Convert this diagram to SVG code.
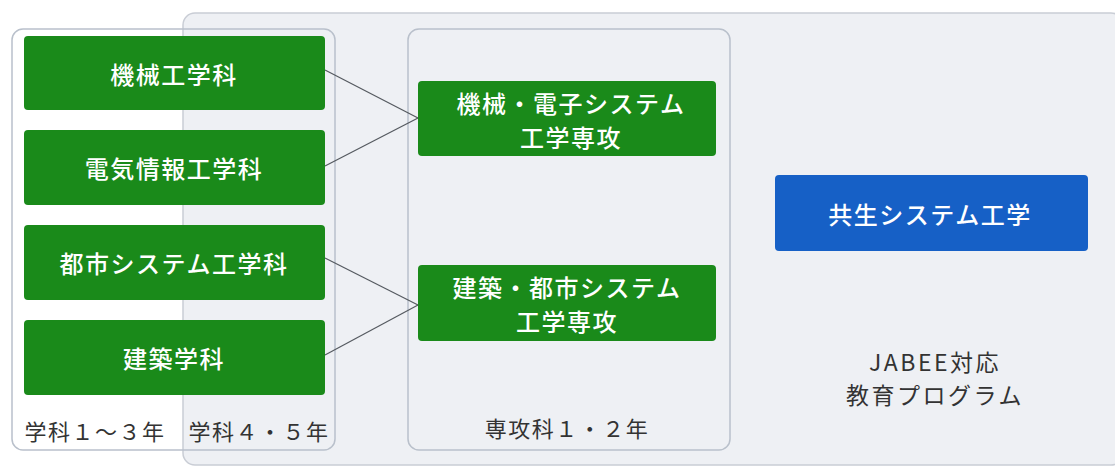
<svg xmlns="http://www.w3.org/2000/svg" width="1115" height="468" viewBox="0 0 1115 468">
<style>
.t{font-family:"Noto Sans CJK JP","Noto Sans",sans-serif;font-size:24px;font-weight:500;letter-spacing:1.5px;text-anchor:middle;dominant-baseline:central}
.s{font-size:22px;letter-spacing:1.5px;font-weight:400}
.j{font-size:23px;letter-spacing:2.5px;font-weight:400}
.w{fill:#ffffff}
.d{fill:#333333}
.g{fill:#1a8a1a}
.b{fill:#1660c6}
.panel{fill:none;stroke:#b9c0cb;stroke-width:1.5}
.conn{stroke:#555a60;stroke-width:1.2;fill:none}
</style>
<rect width="1115" height="468" fill="#ffffff"/>
<g id="program-area">
<rect x="183" y="13" width="940" height="452" rx="12" fill="#eef0f4" stroke="#c9cdd5" stroke-width="1.5"/>
</g>
<g id="gakka-panel">
<rect class="panel" x="12" y="29" width="323" height="421" rx="11"/>
<text class="t s d" x="95" y="430">学科１～３年</text>
<text class="t s d" x="259" y="430">学科４・５年</text>
</g>
<g id="senkou-panel">
<rect class="panel" x="408" y="29" width="322" height="421" rx="11"/>
<text class="t s d" x="567" y="427">専攻科１・２年</text>
</g>
<g id="connectors">
<line class="conn" x1="325" y1="70" x2="418" y2="118"/>
<line class="conn" x1="325" y1="166" x2="418" y2="118"/>
<line class="conn" x1="325" y1="258" x2="418" y2="305"/>
<line class="conn" x1="325" y1="355" x2="418" y2="305"/>
</g>
<g id="kikai">
<rect class="g" x="24" y="36" width="301" height="74" rx="4"/>
<text class="t w" x="174" y="73">機械工学科</text>
</g>
<g id="denki">
<rect class="g" x="24" y="130" width="301" height="75" rx="4"/>
<text class="t w" x="174" y="167">電気情報工学科</text>
</g>
<g id="toshi">
<rect class="g" x="24" y="225" width="301" height="75" rx="4"/>
<text class="t w" x="174" y="262">都市システム工学科</text>
</g>
<g id="kenchiku">
<rect class="g" x="24" y="320" width="301" height="75" rx="4"/>
<text class="t w" x="174" y="357">建築学科</text>
</g>
<g id="kikai-denshi">
<rect class="g" x="418" y="81" width="298" height="75" rx="4"/>
<text class="t w" x="571" y="102">機械・電子システム</text>
<text class="t w" x="571" y="136">工学専攻</text>
</g>
<g id="kenchiku-toshi">
<rect class="g" x="418" y="265" width="298" height="76" rx="4"/>
<text class="t w" x="567" y="286">建築・都市システム</text>
<text class="t w" x="567" y="320">工学専攻</text>
</g>
<g id="kyousei">
<rect class="b" x="775" y="175" width="313" height="76" rx="4"/>
<text class="t w" x="930" y="213">共生システム工学</text>
</g>
<g id="jabee">
<text class="t j d" x="935" y="361">JABEE対応</text>
<text class="t j d" x="935" y="394">教育プログラム</text>
</g>
</svg>
